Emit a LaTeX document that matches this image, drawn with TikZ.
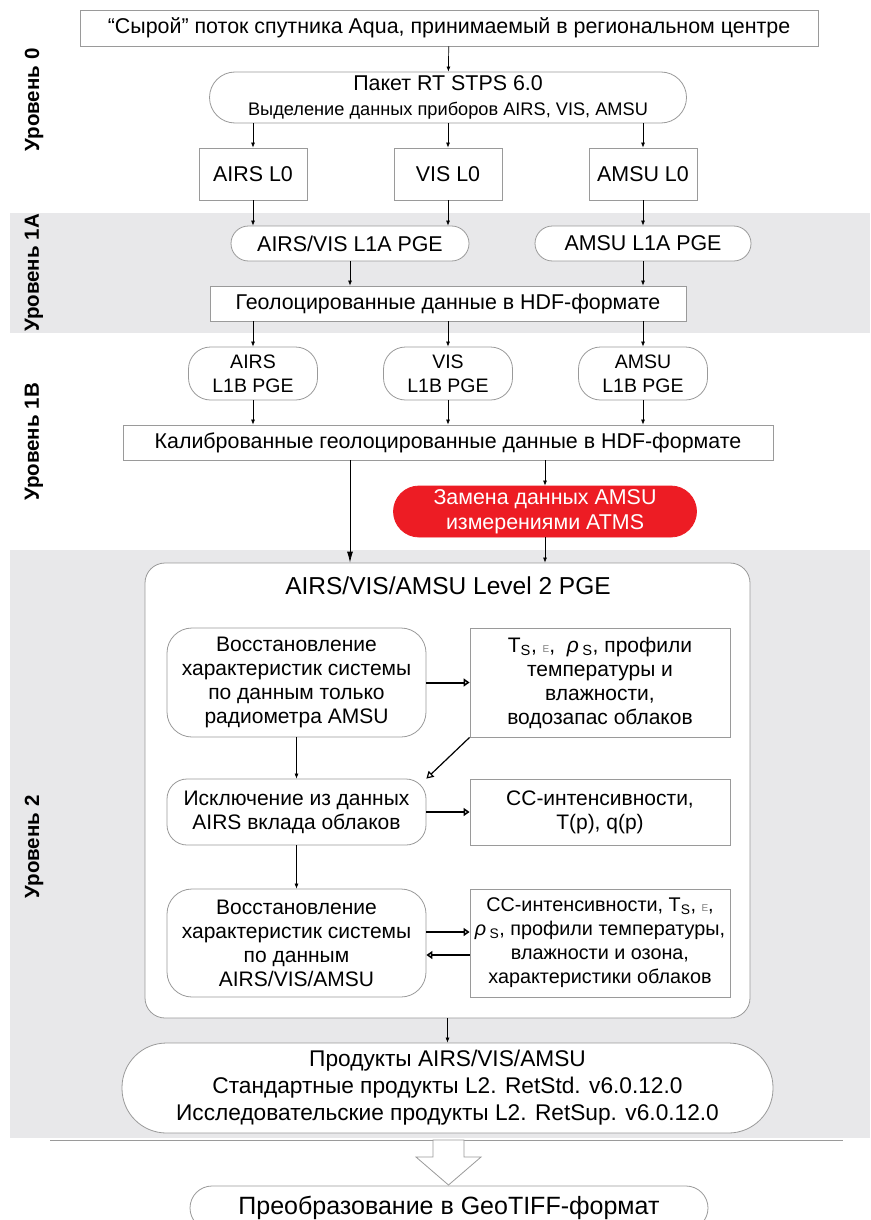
\documentclass[tikz,border=0pt]{standalone}
\usepackage{fontspec}
\setmainfont{Liberation Sans}
\usetikzlibrary{arrows.meta}
\definecolor{bandgray}{HTML}{E8E8EA}
\definecolor{boxline}{HTML}{9A9A9A}
\definecolor{alertred}{HTML}{ED1C24}

\begin{document}
\begin{tikzpicture}[x=1pt,y=-1pt,
    every node/.style={align=center,inner sep=0pt,font=\fontsize{21.4}{25}\selectfont},
    box/.style={draw=boxline,fill=white,line width=0.8pt},
    pill/.style={box,rounded corners=#1},
    level/.style={rotate=90,font=\bfseries\fontsize{20.5}{24}\selectfont},
    inner/.style={font=\fontsize{21}{24}\selectfont},
    flow/.style={-{Latex[length=5pt,width=4pt]},line width=0.7pt},
    bigflow/.style={-{Latex[length=11pt,width=6pt]},line width=0.8pt},
    hollow/.style={-{Triangle[open,length=6pt,width=8pt]},line width=2pt},
    thinhollow/.style={-{Triangle[open,length=7pt,width=8pt]},line width=1.2pt}]
    \useasboundingbox (0,0) rectangle (870,1220);
    \clip (0,0) rectangle (870,1220);
    \fill [white](0,0) rectangle (870,1220);
    \fill [bandgray](10,213) rectangle (870,333);
    \fill [bandgray](10,550) rectangle (870,1138);
    \draw [boxline,line width=1pt](50,1140) -- (843,1140);

    \node [level] (lvl0) at (34,100) {Уровень 0};
    \node [level] (lvl1a) at (34,273) {Уровень 1А};
    \node [level] (lvl1b) at (34,442) {Уровень 1В};
    \node [level] (lvl2) at (34,847) {Уровень 2};

    \node [box,minimum width=738,minimum height=36] (raw) at (449,28) {“Сырой” поток спутника Aqua, принимаемый в региональном центре};
    \node [pill=25.5,minimum width=477,minimum height=51] (rtstps) at (448,97.5) {Пакет RT STPS 6.0\\[0pt]{\fontsize{18.2}{20}\selectfont Выделение данных приборов AIRS, VIS, AMSU}};
    \node [box,minimum width=108,minimum height=52] (airsLzero) at (253,174) {AIRS L0};
    \node [box,minimum width=108,minimum height=52] (visLzero) at (448,174) {VIS L0};
    \node [box,minimum width=108,minimum height=52] (amsuLzero) at (643,174) {AMSU L0};
    \node [pill=17.5,minimum width=238,minimum height=35] (airsvisLoneA) at (350,243.5) {AIRS/VIS L1A PGE};
    \node [pill=17.5,minimum width=216,minimum height=35] (amsuLoneA) at (643,243.5) {AMSU L1A PGE};
    \node [box,minimum width=476,minimum height=35] (geo) at (448,303.5) {Геолоцированные данные в HDF-формате};
    \node [pill=22,font=\fontsize{19.5}{24}\selectfont,minimum width=129,minimum height=53] (airsLoneB) at (253,373.5) {AIRS\\L1B PGE};
    \node [pill=22,font=\fontsize{19.5}{24}\selectfont,minimum width=129,minimum height=53] (visLoneB) at (448,373.5) {VIS\\L1B PGE};
    \node [pill=22,font=\fontsize{19.5}{24}\selectfont,minimum width=129,minimum height=53] (amsuLoneB) at (643,373.5) {AMSU\\L1B PGE};
    \node [box,minimum width=650,minimum height=35] (calib) at (448,442.5) {Калиброванные геолоцированные данные в HDF-формате};
    \node [pill=25.5,fill=alertred,draw=alertred,text=white,minimum width=303,minimum height=51] (atms) at (545,511.5) {Замена данных AMSU\\измерениями ATMS};

    \node [pill=20,minimum width=605,minimum height=455] (level2) at (447.5,790.5) {};
    \node [font=\fontsize{24.5}{28}\selectfont] (level2title) at (448,586) {AIRS/VIS/AMSU Level 2 PGE};
    \node [pill=25,inner,minimum width=259,minimum height=109] (amsuret) at (296.5,682.5) {Восстановление\\характеристик системы\\по данным только\\радиометра AMSU};
    \node [box,inner,minimum width=260,minimum height=109] (amsuout) at (600,682.5) {T\textsubscript{S}, {\color{gray}\fontsize{10}{12}\selectfont E},\ \ \textit{ρ}\,\textsubscript{S}, профили\\температуры и\\влажности,\\водозапас облаков};
    \node [pill=20,inner,minimum width=259,minimum height=66] (cloudclr) at (296.5,812) {Исключение из данных\\AIRS вклада облаков};
    \node [box,inner,minimum width=260,minimum height=66] (ccout) at (600,812) {СС-интенсивности,\\T(p), q(p)};
    \node [pill=25,inner,minimum width=259,minimum height=108] (fullret) at (296.5,943) {Восстановление\\характеристик системы\\по данным\\AIRS/VIS/AMSU};
    \node [box,font=\fontsize{19.8}{24}\selectfont,minimum width=260,minimum height=108] (fullout) at (600,943) {СС-интенсивности, T\textsubscript{S}, {\color{gray}\fontsize{10}{12}\selectfont E},\\\textit{ρ}\,\textsubscript{S}, профили температуры,\\влажности и озона,\\характеристики облаков};

    \node [pill=44.5,font=\fontsize{22.7}{27}\selectfont,minimum width=651,minimum height=90] (products) at (447.5,1088) {Продукты AIRS/VIS/AMSU\\Стандартные продукты L2. RetStd. v6.0.12.0\\Исследовательские продукты L2. RetSup. v6.0.12.0};
    \node [pill=22,font=\fontsize{25}{28}\selectfont,minimum width=518,minimum height=44] (geotiff) at (449,1208) {Преобразование в GeoTIFF-формат};

    \draw [flow](raw) -- (rtstps);
    \draw [flow](rtstps.south -| airsLzero) -- (airsLzero);
    \draw [flow](rtstps) -- (visLzero);
    \draw [flow](rtstps.south -| amsuLzero) -- (amsuLzero);
    \draw [flow](airsLzero) -- (airsLzero |- airsvisLoneA.north);
    \draw [flow](visLzero) -- (visLzero |- airsvisLoneA.north);
    \draw [flow](amsuLzero) -- (amsuLoneA);
    \draw [flow](airsvisLoneA.south) -- (airsvisLoneA.south |- geo.north);
    \draw [flow](amsuLoneA.south) -- (amsuLoneA.south |- geo.north);
    \draw [flow](geo.south -| airsLoneB) -- (airsLoneB);
    \draw [flow](geo) -- (visLoneB);
    \draw [flow](geo.south -| amsuLoneB) -- (amsuLoneB);
    \draw [flow](airsLoneB) -- (airsLoneB |- calib.north);
    \draw [flow](visLoneB) -- (calib);
    \draw [flow](amsuLoneB) -- (amsuLoneB |- calib.north);
    \draw [bigflow](calib.south -| airsvisLoneA) -- (airsvisLoneA |- level2.north);
    \draw [flow](calib.south -| atms) -- (atms);
    \draw [flow](atms) -- (atms |- level2.north);

    \draw [hollow](amsuret) -- (amsuout);
    \draw [thinhollow](amsuout.south west) -- (cloudclr.north east);
    \draw [flow](amsuret) -- (cloudclr);
    \draw [hollow](cloudclr) -- (ccout);
    \draw [flow](cloudclr) -- (fullret);
    \draw [hollow]([yshift=11pt]fullret.east) -- ([yshift=11pt]fullout.west);
    \draw [hollow]([yshift=-12pt]fullout.west) -- ([yshift=-12pt]fullret.east);

    \draw [flow](level2) -- (products);
    \draw [boxline,fill=white,line width=0.8pt](433,1140) -- (464,1140) -- (464,1157) -- (481,1157) -- (448.5,1185) -- (416,1157) -- (433,1157) -- cycle;
\end{tikzpicture}
\end{document}
